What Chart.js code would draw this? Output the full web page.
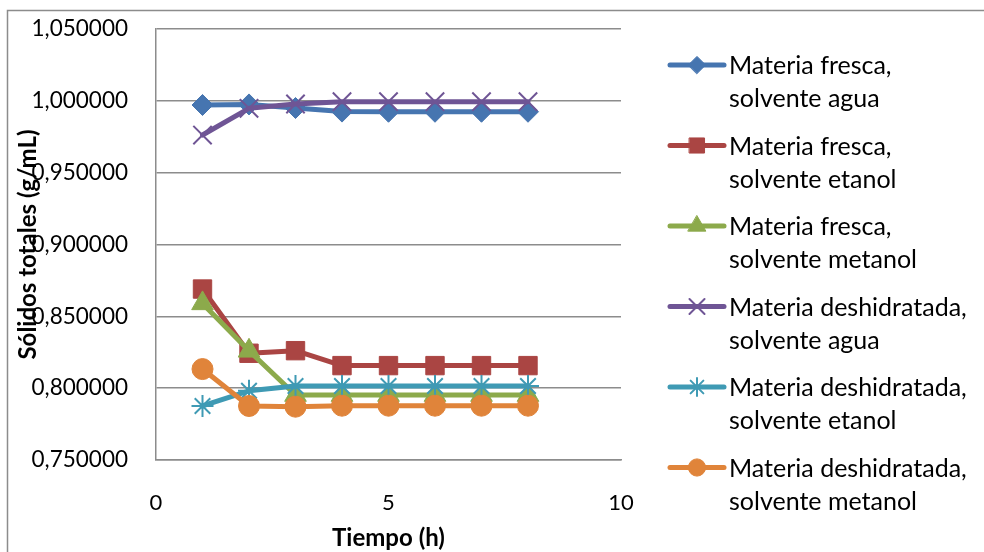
<!DOCTYPE html>
<html>
<head>
<meta charset="utf-8">
<script src="https://cdn.jsdelivr.net/npm/chart.js@4.4.1/dist/chart.umd.min.js"></script>
<style>
  html, body { margin: 0; padding: 0; background: #ffffff; }
  #wrap { width: 984px; height: 552px; position: relative; }
</style>
</head>
<body>
<div id="wrap"><canvas id="c" width="984" height="552"></canvas></div>
<script>
// ---- data ----
const hours = [1, 2, 3, 4, 5, 6, 7, 8];
const frescaAgua = [0.9971, 0.9975, 0.9950, 0.9925, 0.9924, 0.9924, 0.9924, 0.9924];
const frescaEtanol = [0.8690, 0.8243, 0.8261, 0.8157, 0.8157, 0.8157, 0.8157, 0.8157];
const frescaMetanol = [0.8590, 0.8260, 0.7952, 0.7952, 0.7952, 0.7952, 0.7952, 0.7952];
const deshAgua = [0.9762, 0.9948, 0.9978, 0.9994, 0.9994, 0.9994, 0.9994, 0.9994];
const deshEtanol = [0.7876, 0.7982, 0.8015, 0.8015, 0.8015, 0.8015, 0.8015, 0.8015];
const deshMetanol = [0.8133, 0.7876, 0.7871, 0.7878, 0.7878, 0.7878, 0.7878, 0.7878];
const seriesLabels = [
  ["Materia fresca,", "solvente agua"],
  ["Materia fresca,", "solvente etanol"],
  ["Materia fresca,", "solvente metanol"],
  ["Materia deshidratada,", "solvente agua"],
  ["Materia deshidratada,", "solvente etanol"],
  ["Materia deshidratada,", "solvente metanol"]
];
const xTitle = "Tiempo (h)";
const yTitle = "Sólidos totales (g/mL)";
const xMin = 0, xMax = 10, xStep = 5;
const yMin = 0.75, yMax = 1.05, yStep = 0.05;

// ---- styles ----
const seriesValues = [frescaAgua, frescaEtanol, frescaMetanol, deshAgua, deshEtanol, deshMetanol];
const colors = ['#4675B0', '#AA4543', '#8CAA4B', '#6F5595', '#3F9AB4', '#E0843A'];
const styles = ['rectRot', 'rect', 'triangle', 'crossRot', 'star', 'circle'];
const radii = [10.5, 13, 12.5, 13, 11, 10.5];
const FONT = 'Lato, "Open Sans", sans-serif';

function toPoints(vals) { return hours.map((h, i) => ({ x: h, y: vals[i] })); }

const datasets = seriesValues.map((vals, i) => {
  const filled = styles[i] !== 'crossRot' && styles[i] !== 'star';
  return {
    label: seriesLabels[i].join(' '),
    data: toPoints(vals),
    showLine: true,
    borderColor: colors[i],
    backgroundColor: colors[i],
    borderWidth: 5,
    pointStyle: styles[i],
    pointRadius: radii[i],
    pointBorderWidth: filled ? 1 : 2,
    pointBackgroundColor: colors[i],
    pointBorderColor: colors[i],
    borderCapStyle: 'round',
    borderJoinStyle: 'round',
    tension: 0,
    order: 5 - i
  };
});

const frame = {
  id: 'frame',
  beforeDraw(chart) {
    const ctx = chart.ctx;
    ctx.save();
    ctx.fillStyle = '#ffffff';
    ctx.fillRect(0, 0, chart.width, chart.height);
    ctx.strokeStyle = '#8c8c8c';
    ctx.lineWidth = 1.5;
    ctx.strokeRect(7.5, 10.5, 1200, 800);
    ctx.restore();
  }
};

const customLegend = {
  id: 'customLegend',
  afterDraw(chart) {
    const ctx = chart.ctx;
    ctx.save();
    chart.data.datasets.forEach((ds, i) => {
      const y0 = 65 + i * 80.5;
      ctx.strokeStyle = ds.borderColor;
      ctx.lineWidth = 5;
      ctx.lineCap = 'round';
      ctx.beginPath();
      ctx.moveTo(670, y0);
      ctx.lineTo(724, y0);
      ctx.stroke();
      ctx.fillStyle = ds.pointBackgroundColor;
      ctx.strokeStyle = ds.pointBorderColor;
      ctx.lineWidth = ds.pointBorderWidth;
      Chart.helpers.drawPoint(ctx, {
        pointStyle: ds.pointStyle,
        radius: ds.pointRadius * 0.82,
        rotation: 0,
        borderWidth: ds.pointBorderWidth
      }, 697, y0);
      ctx.fillStyle = '#000000';
      ctx.font = '25px ' + FONT;
      ctx.textAlign = 'left';
      ctx.textBaseline = 'middle';
      ctx.fillText(seriesLabels[i][0], 729, y0 + 1);
      ctx.fillText(seriesLabels[i][1], 729, y0 + 34);
    });
    ctx.restore();
  }
};

function draw() {
  new Chart(document.getElementById('c'), {
    type: 'scatter',
    data: { datasets },
    plugins: [frame, customLegend],
    options: {
      responsive: false,
      animation: false,
      layout: { padding: { top: 29, right: 363, left: 0, bottom: 0 } },
      plugins: { legend: { display: false }, tooltip: { enabled: false } },
      scales: {
        x: {
          type: 'linear',
          min: xMin, max: xMax,
          afterFit(s) { s.height = 92; },
          afterBuildTicks(s) {
            const t = [];
            for (let v = xMin; v <= xMax + 1e-9; v += xStep) t.push({ value: v });
            s.ticks = t;
          },
          grid: { display: false, drawTicks: false },
          border: { display: true, color: '#8c8c8c', width: 1.5 },
          ticks: {
            color: '#000000',
            font: { family: FONT, size: 22 },
            padding: 30,
            maxRotation: 0,
            callback: v => String(v)
          },
          title: {
            display: true, text: xTitle, color: '#000000',
            font: { family: FONT, size: 24, weight: 'bold', lineHeight: 1 },
            padding: { top: 0, bottom: 2 }
          }
        },
        y: {
          type: 'linear',
          min: yMin, max: yMax,
          afterFit(s) { s.width = 156; },
          afterBuildTicks(s) {
            const t = [];
            for (let k = 0; k <= Math.round((yMax - yMin) / yStep); k++) t.push({ value: +(yMin + k * yStep).toFixed(6) });
            s.ticks = t;
          },
          grid: { display: true, drawTicks: true, tickLength: 28, tickColor: 'rgba(0,0,0,0)', color: '#8c8c8c', lineWidth: 1.5 },
          border: { display: true, color: '#8c8c8c', width: 1.5 },
          ticks: {
            color: '#000000',
            font: { family: FONT, size: 22.5 },
            padding: 0,
            callback: v => Number(v).toFixed(6).replace('.', ',')
          },
          title: {
            display: true, text: yTitle, color: '#000000',
            font: { family: FONT, size: 24, weight: 'bold', lineHeight: 1 },
            padding: { top: 16, bottom: 0 }
          }
        }
      }
    }
  });
}

if (document.fonts && document.fonts.load) {
  Promise.all([
    document.fonts.load('22px Lato'),
    document.fonts.load('bold 24px Lato')
  ]).then(draw, draw);
} else {
  draw();
}
</script>
</body>
</html>
